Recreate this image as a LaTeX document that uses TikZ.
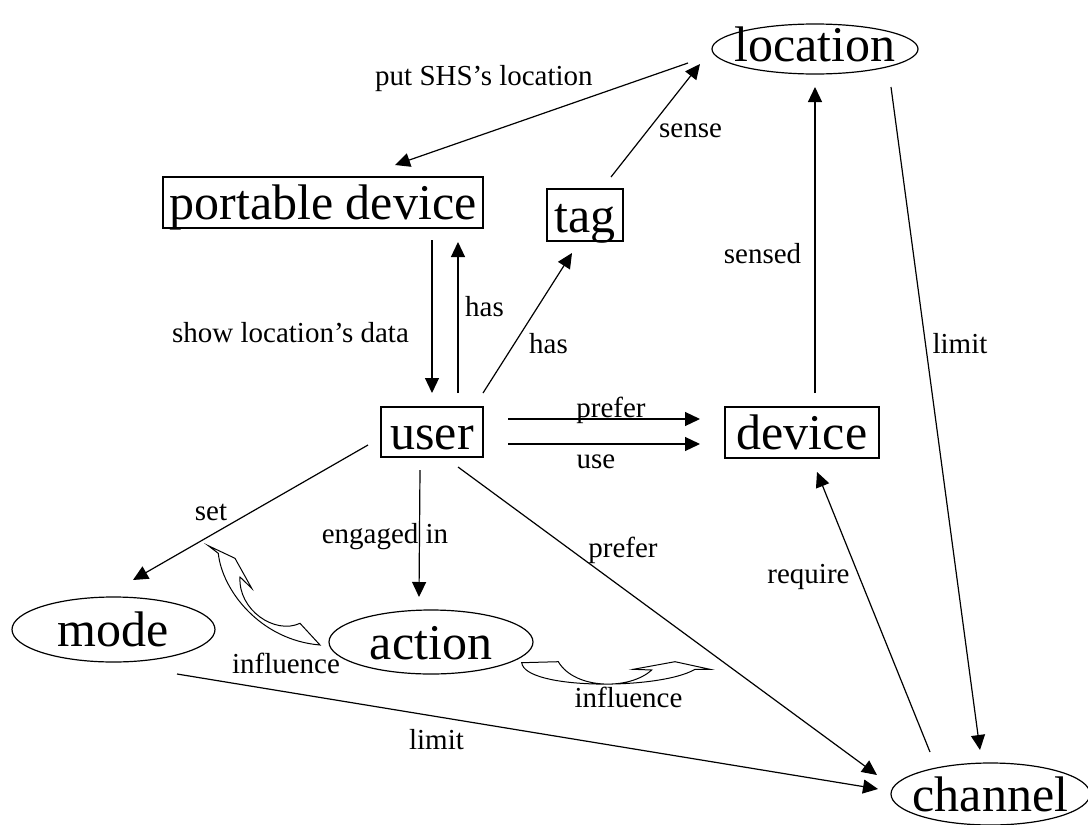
\documentclass[tikz,border=0pt]{standalone}
\usepackage{fontspec}
\setmainfont{Liberation Serif}
\usetikzlibrary{arrows.meta,shapes.geometric,calc}
\newcommand{\ntext}[2][0pt]{\makebox[0pt]{\raisebox{\dimexpr-0.34em+#1\relax}[0pt][0pt]{#2}}}
\tikzset{
  boxn/.style={draw, rectangle, line width=1.2pt, inner sep=0pt, font=\fontsize{50}{60}\selectfont},
  elln/.style={draw, ellipse, line width=1.2pt, inner sep=0pt, font=\fontsize{50}{60}\selectfont},
  lab/.style={font=\fontsize{29}{34}\selectfont, inner sep=0pt, anchor=base},
  arr/.style={line width=1.2pt, -{Triangle[length=15pt,width=14pt]}},
  bent/.style={line width=1pt, line join=miter}
}
\begin{document}
\begin{tikzpicture}[x=1pt,y=-1pt]
\useasboundingbox (0,0) rectangle (1088,825);
% nodes
\node[boxn, minimum width=320pt, minimum height=51pt] (pd) at (323,202.5) {\ntext{portable device}};
\node[boxn, minimum width=76pt, minimum height=52pt] (tag) at (585,215) {\ntext{tag}};
\node[boxn, minimum width=102pt, minimum height=50pt] (user) at (432,432) {\ntext{user}};
\node[boxn, minimum width=154pt, minimum height=51pt] (dev) at (802,432.5) {\ntext{device}};
\node[elln, minimum width=206pt, minimum height=50pt] (loc) at (815,49) {\ntext[5pt]{location}};
\node[elln, minimum width=203pt, minimum height=65pt] (mode) at (113.5,629.5) {\ntext{mode}};
\node[elln, minimum width=204pt, minimum height=64pt] (act) at (431,642) {\ntext{action}};
\node[elln, minimum width=199pt, minimum height=62pt] (ch) at (990.5,794) {\ntext{channel}};
% connectors
\draw[arr] ($(loc)+(-127,14)$) -- ($(pd)+(72,-37.5)$);
\draw[arr] ($(tag)+(26,-38)$) -- ($(loc)+(-115,15)$);
\draw[arr] ($(dev)+(13,-39.5)$) -- ($(loc)+(0,38)$);
\draw[arr] ($(loc)+(76,38)$) -- ($(ch)+(-10.5,-44)$);
\draw[arr] ($(pd)+(109,37.5)$) -- ($(user)+(0,-39)$);
\draw[arr] ($(user)+(26,-39)$) -- ($(pd)+(135,39.5)$);
\draw[arr] ($(user)+(51,-39)$) -- ($(tag)+(-13,38)$);
\draw[arr] ($(user)+(76,-13)$) -- ($(dev)+(-102,-13.5)$);
\draw[arr] ($(user)+(76,12)$) -- ($(dev)+(-102,11.5)$);
\draw[arr] ($(user)+(-64,13)$) -- ($(mode)+(19.5,-49.5)$);
\draw[arr] ($(user)+(-12,38)$) -- ($(act)+(-12,-45)$);
\draw[arr] ($(user)+(26,35)$) -- ($(ch)+(-113.5,-19)$);
\draw[arr] ($(mode)+(63.5,44.5)$) -- ($(ch)+(-112.5,-5)$);
\draw[arr] ($(ch)+(-60.5,-42)$) -- ($(dev)+(15,39.5)$);
% curved block arrows (influence)
\draw[bent] (320,645) -- (300,623.3) .. controls (275,635) and (238,610) .. (240,577)
  -- (251.7,588.3) -- (235,558.3) -- (208.3,545.7) -- (218.3,553.3)
  .. controls (222,590) and (260,640) .. (320,645) -- cycle;
\draw[bent] (521.7,662.7) -- (558.3,661.7) .. controls (575,690) and (630,690) .. (651.7,670)
  -- (633.3,669.3) -- (675,661.7) -- (710,669.3) -- (695,669.3)
  .. controls (660,690) and (525,690) .. (521.7,662.7) -- cycle;
% labels
\node[lab] (l1) at (484,85) {put SHS’s location};
\node[lab] (l2) at (690.5,137) {sense};
\node[lab] (l3) at (762.5,263) {sensed};
\node[lab] (l4) at (960,353) {limit};
\node[lab] (l5) at (290.5,342) {show location’s data};
\node[lab] (l6) at (484.5,316) {has};
\node[lab] (l7) at (548.5,353) {has};
\node[lab] (l8) at (611,417) {prefer};
\node[lab] (l9) at (596,468) {use};
\node[lab] (l10) at (211,520) {set};
\node[lab] (l11) at (385,543) {engaged in};
\node[lab] (l12) at (623,557) {prefer};
\node[lab] (l13) at (808.5,583) {require};
\node[lab] (l14) at (286,673) {influence};
\node[lab] (l15) at (628.5,707) {influence};
\node[lab] (l16) at (436.5,749) {limit};
\end{tikzpicture}
\end{document}
